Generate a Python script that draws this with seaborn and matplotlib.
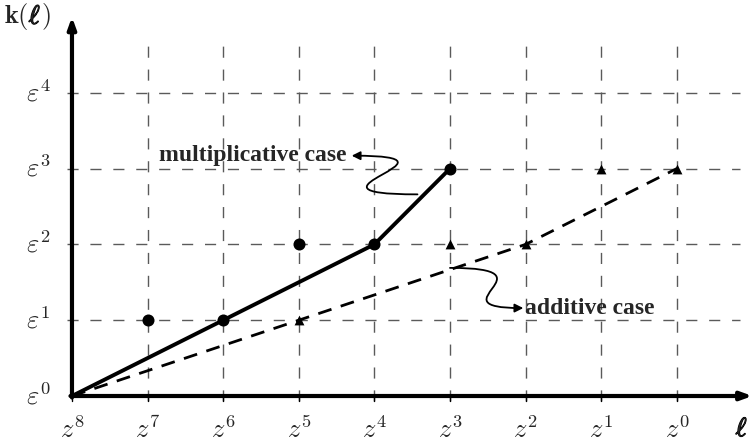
import matplotlib
matplotlib.use("Agg")
import matplotlib.pyplot as plt
import matplotlib.patheffects as pe
from matplotlib.path import Path
from matplotlib.patches import FancyArrowPatch
import seaborn as sns
import pandas as pd

# Grid positions: index 0 is z^8 on the x axis, index 0 is eps^0 on the y axis
x_labels = ["$z^8$", "$z^7$", "$z^6$", "$z^5$", "$z^4$", "$z^3$", "$z^2$", "$z^1$", "$z^0$"]
y_labels = [r"$\varepsilon^0$", r"$\varepsilon^1$", r"$\varepsilon^2$", r"$\varepsilon^3$", r"$\varepsilon^4$"]

# Multiplicative case: points and the solid path
mult_pts_x = [1, 2, 3, 4, 5]
mult_pts_y = [1, 1, 2, 2, 3]
mult_path_x = [0, 2, 4, 5]
mult_path_y = [0, 1, 2, 3]

# Additive case: points and the dashed path
add_pts_x = [3, 5, 6, 7, 8]
add_pts_y = [1, 2, 2, 3, 3]
add_path_x = [0, 6, 8]
add_path_y = [0, 2, 3]

sns.set_theme(style="white")
plt.rcParams["mathtext.fontset"] = "cm"
plt.rcParams["font.family"] = ["Liberation Serif", "DejaVu Serif"]

fig = plt.figure(figsize=(7.53, 4.43), dpi=100)
ax = fig.add_axes([0, 0, 1, 1])
XLIM = (-0.952, 9.008)
YLIM = (-0.62, 5.224)

grid_kw = dict(color="#5a5a5a", lw=1.0, zorder=1)
for i in range(1, len(x_labels)):
    ln, = ax.plot([i, i], [-0.07, 4.72], **grid_kw)
    ln.set_dashes((8, 8.5))
for j in range(1, len(y_labels)):
    ln, = ax.plot([-0.06, 8.84], [j, j], **grid_kw)
    ln.set_dashes((8, 8.5))
for i in range(len(x_labels)):
    ax.plot([i, i], [-0.07, 0], color="black", lw=1.0, zorder=2)

# axes with arrow heads
arrow_kw = dict(arrowstyle="-|>,head_length=0.55,head_width=0.2", lw=3.0, color="black",
                shrinkA=0, shrinkB=0)
ax.annotate("", xy=(9.0, 0), xytext=(-0.02, 0), arrowprops=arrow_kw, zorder=3)
ax.annotate("", xy=(0, 5.0), xytext=(0, -0.02), arrowprops=arrow_kw, zorder=3)

mult_path = pd.DataFrame({"x": mult_path_x, "y": mult_path_y})
add_path = pd.DataFrame({"x": add_path_x, "y": add_path_y})
sns.lineplot(data=mult_path, x="x", y="y", color="black", lw=2.8, sort=False, ax=ax, zorder=4)
sns.lineplot(data=add_path, x="x", y="y", color="black", lw=2.0, sort=False, ax=ax, zorder=4)
ax.lines[-1].set_dashes((5, 3.5))

mult_pts = pd.DataFrame({"x": mult_pts_x, "y": mult_pts_y})
add_pts = pd.DataFrame({"x": add_pts_x, "y": add_pts_y})
sns.scatterplot(data=mult_pts, x="x", y="y", marker="o", s=75, color="black",
                linewidth=0, ax=ax, zorder=5)
sns.scatterplot(data=add_pts, x="x", y="y", marker="^", s=50, color="black",
                linewidth=0, ax=ax, zorder=5)
ax.set_xlabel("")
ax.set_ylabel("")
ax.set_xlim(*XLIM)
ax.set_ylim(*YLIM)
ax.axis("off")

for i, lab in enumerate(x_labels):
    ax.text(i, -0.45, lab, ha="center", va="center", fontsize=19)
for j, lab in enumerate(y_labels):
    ax.text(-0.45, j, lab, ha="center", va="center", fontsize=19)

# axis names with a bold ell
bold = [pe.withStroke(linewidth=0.9, foreground="black")]
t1 = ax.text(-0.9, 5.0, r"$\mathbf{k}($", ha="left", va="center", fontsize=19)
t2 = ax.annotate(r"$\ell$", xy=(1, 0.5), xycoords=t1, ha="left", va="center", fontsize=19,
                 path_effects=bold)
ax.annotate(r"$)$", xy=(1, 0.5), xycoords=t2, ha="left", va="center", fontsize=19)
ax.text(8.86, -0.44, r"$\ell$", ha="center", va="center", fontsize=19, path_effects=bold)

# curly annotation arrows
def curly(p0, p1, p2, p3):
    verts = [p0, p1, p2, p3]
    codes = [Path.MOVETO, Path.CURVE4, Path.CURVE4, Path.CURVE4]
    arr = FancyArrowPatch(path=Path(verts, codes), arrowstyle="-|>,head_length=5,head_width=2.5",
                          color="black", lw=1.3, zorder=6)
    ax.add_patch(arr)

curly((4.57, 2.66), (2.75, 2.66), (5.40, 3.17), (3.70, 3.17))
curly((5.0, 1.69), (6.45, 1.69), (4.74, 1.16), (5.97, 1.16))

ax.text(3.63, 3.17, "multiplicative case", ha="right", va="center", fontsize=17, fontweight="bold")
ax.text(5.99, 1.16, "additive case", ha="left", va="center", fontsize=17, fontweight="bold")

fig.savefig("out.png", dpi=100)
